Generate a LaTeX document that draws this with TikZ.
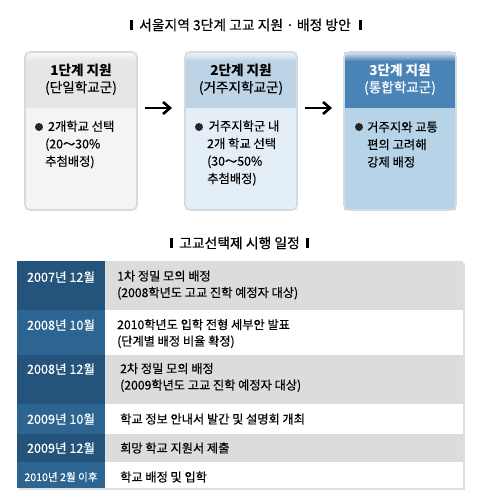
\documentclass[tikz,border=0pt]{standalone}
\usepackage{fontspec}
\setmainfont{Noto Sans CJK KR}[UprightFeatures={FakeBold=0.35}]
\usetikzlibrary{arrows.meta}
\definecolor{hdrA}{HTML}{E6E6E6}
\definecolor{bodyA}{HTML}{F4F4F4}
\definecolor{hdrB}{HTML}{BDD3E6}
\definecolor{bodyB}{HTML}{E4EEF6}
\definecolor{hdrC}{HTML}{4A84B6}
\definecolor{bodyC}{HTML}{B7D3E8}
\definecolor{edgecol}{HTML}{D2DAE2}
\definecolor{darkcell}{HTML}{24537B}
\definecolor{lightcell}{HTML}{2D6592}
\definecolor{graycell}{HTML}{DCDCDC}
\begin{document}
\begin{tikzpicture}[x=1pt,y=-1pt,
  boxbody/.style={rectangle,minimum width=112pt,minimum height=158pt,inner sep=0pt,outer sep=0pt,draw=none},
  boxhead/.style={rectangle,minimum width=112pt,minimum height=56pt,inner sep=0pt,outer sep=0pt,draw=none},
  hdtitle/.style={font=\fontsize{13.6}{15}\selectfont\bfseries,inner sep=0pt},
  hdsub/.style={font=\fontsize{13.6}{15}\selectfont,inner sep=0pt},
  bodytxt/.style={font=\fontsize{12.3}{17.5}\selectfont,align=left,anchor=west,inner sep=0pt},
  dot/.style={circle,fill=black!85,minimum size=8pt,inner sep=0pt},
  flow/.style={line width=2.6pt,-{Straight Barb[length=7pt,width=12pt,line width=2.6pt]}},
  titlebar/.style={rectangle,fill=black,minimum width=3pt,minimum height=10pt,inner sep=0pt},
  titletxt/.style={font=\fontsize{13.8}{15}\selectfont,inner sep=0pt},
  cell/.style={rectangle,inner sep=0pt,outer sep=0pt,draw=none,anchor=north west},
  datetxt/.style={font=\fontsize{12.6}{14}\selectfont,text=white,inner sep=0pt},
  rowtxt/.style={font=\fontsize{12.2}{16.5}\selectfont,align=left,anchor=west,inner sep=0pt}
]
\useasboundingbox (0,0) rectangle (500,500);

% title
\node[titletxt] (title1) at (245,25) {서울지역 3단계 고교 지원 · 배정 방안};
\node[titlebar] (tb1l) at (131.5,25) {};
\node[titlebar] (tb1r) at (360.5,25) {};

% boxes
\foreach \n/\cx/\hc/\bc in {1/81/hdrA/bodyA,2/241/hdrB/bodyB,3/400/hdrC/bodyC}{
  \node[boxbody,fill=\bc] (b\n) at (\cx,131) {};
  \begin{scope}
    \clip[rounded corners=5pt] (b\n.north west) rectangle (b\n.south east);
    \node[boxhead,fill=\hc] (h\n) at (\cx,80) {};
    \shade[top color=white,bottom color=\hc,opacity=0.8] (b\n.north west) rectangle ([yshift=-9pt]b\n.north east);
  \end{scope}
  \draw[edgecol,line width=1.6pt,rounded corners=5pt] (b\n.north west) rectangle (b\n.south east);
}

\node[hdtitle] (t1) at (81,70) {1단계 지원};
\node[hdsub] (s1) at (81,88) {(단일학교군)};
\node[hdtitle] (t2) at (241,70) {2단계 지원};
\node[hdsub] (s2) at (241,88) {(거주지학교군)};
\node[hdtitle,text=white] (t3) at (400,70) {3단계 지원};
\node[hdsub,text=white] (s3) at (400,88) {(통합학교군)};

\node[dot] (d1) at (39,127) {};
\node[bodytxt] (x1) at (45,144.5) {\hspace*{3pt}2개학교 선택\\(20～30\%\\추첨배정)};
\node[dot] (d2) at (199,127) {};
\node[bodytxt] (x2) at (207,153) {\hspace*{1.5pt}거주지학군 내\\2개 학교 선택\\(30～50\%\\추첨배정)};
\node[dot] (d3) at (359,127) {};
\node[bodytxt] (x3) at (367,144.5) {거주지와 교통\\편의 고려해\\강제 배정};

\draw[flow] ([xshift=8pt]h1.south east) -- ([xshift=-13pt]h2.south west);
\draw[flow] ([xshift=8pt]h2.south east) -- ([xshift=-12pt]h3.south west);

% second title
\node[titletxt] (title2) at (239.5,243) {고교선택제 시행 일정};
\node[titlebar] (tb2l) at (171.5,242.5) {};
\node[titlebar] (tb2r) at (307.5,242.5) {};

% table
\fill[black!12] (18.5,262.5) rectangle (464.5,489.5);
\foreach \i/\top/\h/\lc/\rc in {1/261/49/darkcell/graycell,2/310/45/lightcell/white,3/355/49/darkcell/graycell,4/404/30/lightcell/white,5/434/28/darkcell/graycell,6/462/26/lightcell/white}{
  \node[cell,fill=\lc,minimum width=88pt,minimum height=\h pt] (l\i) at (17,\top) {};
  \node[cell,fill=\rc,minimum width=358pt,minimum height=\h pt] (r\i) at (105,\top) {};
}

\node[datetxt] (dt1) at (61,277) {2007년 12월};
\node[datetxt] (dt2) at (61,325) {2008년 10월};
\node[datetxt] (dt3) at (61,369) {2008년 12월};
\node[datetxt] (dt4) at (61,419) {2009년 10월};
\node[datetxt] (dt5) at (61,448) {2009년 12월};
\node[datetxt,font=\fontsize{10.6}{12}\selectfont] (dt6) at (61,477) {2010년 2월 이후};

\node[rowtxt] (rt1) at (117,285) {1차 정밀 모의 배정\\(2008학년도 고교 진학 예정자 대상)};
\node[rowtxt] (rt2) at (117,333.5) {2010학년도 입학 전형 세부안 발표\\(단계별 배정 비율 확정)};
\node[rowtxt] (rt3) at (120,377.5) {2차 정밀 모의 배정\\(2009학년도 고교 진학 예정자 대상)};
\node[rowtxt] (rt4) at (120,419) {학교 정보 안내서 발간 및 설명회 개최};
\node[rowtxt] (rt5) at (120,448) {희망 학교 지원서 제출};
\node[rowtxt] (rt6) at (120,477) {학교 배정 및 입학};
\end{tikzpicture}
\end{document}
